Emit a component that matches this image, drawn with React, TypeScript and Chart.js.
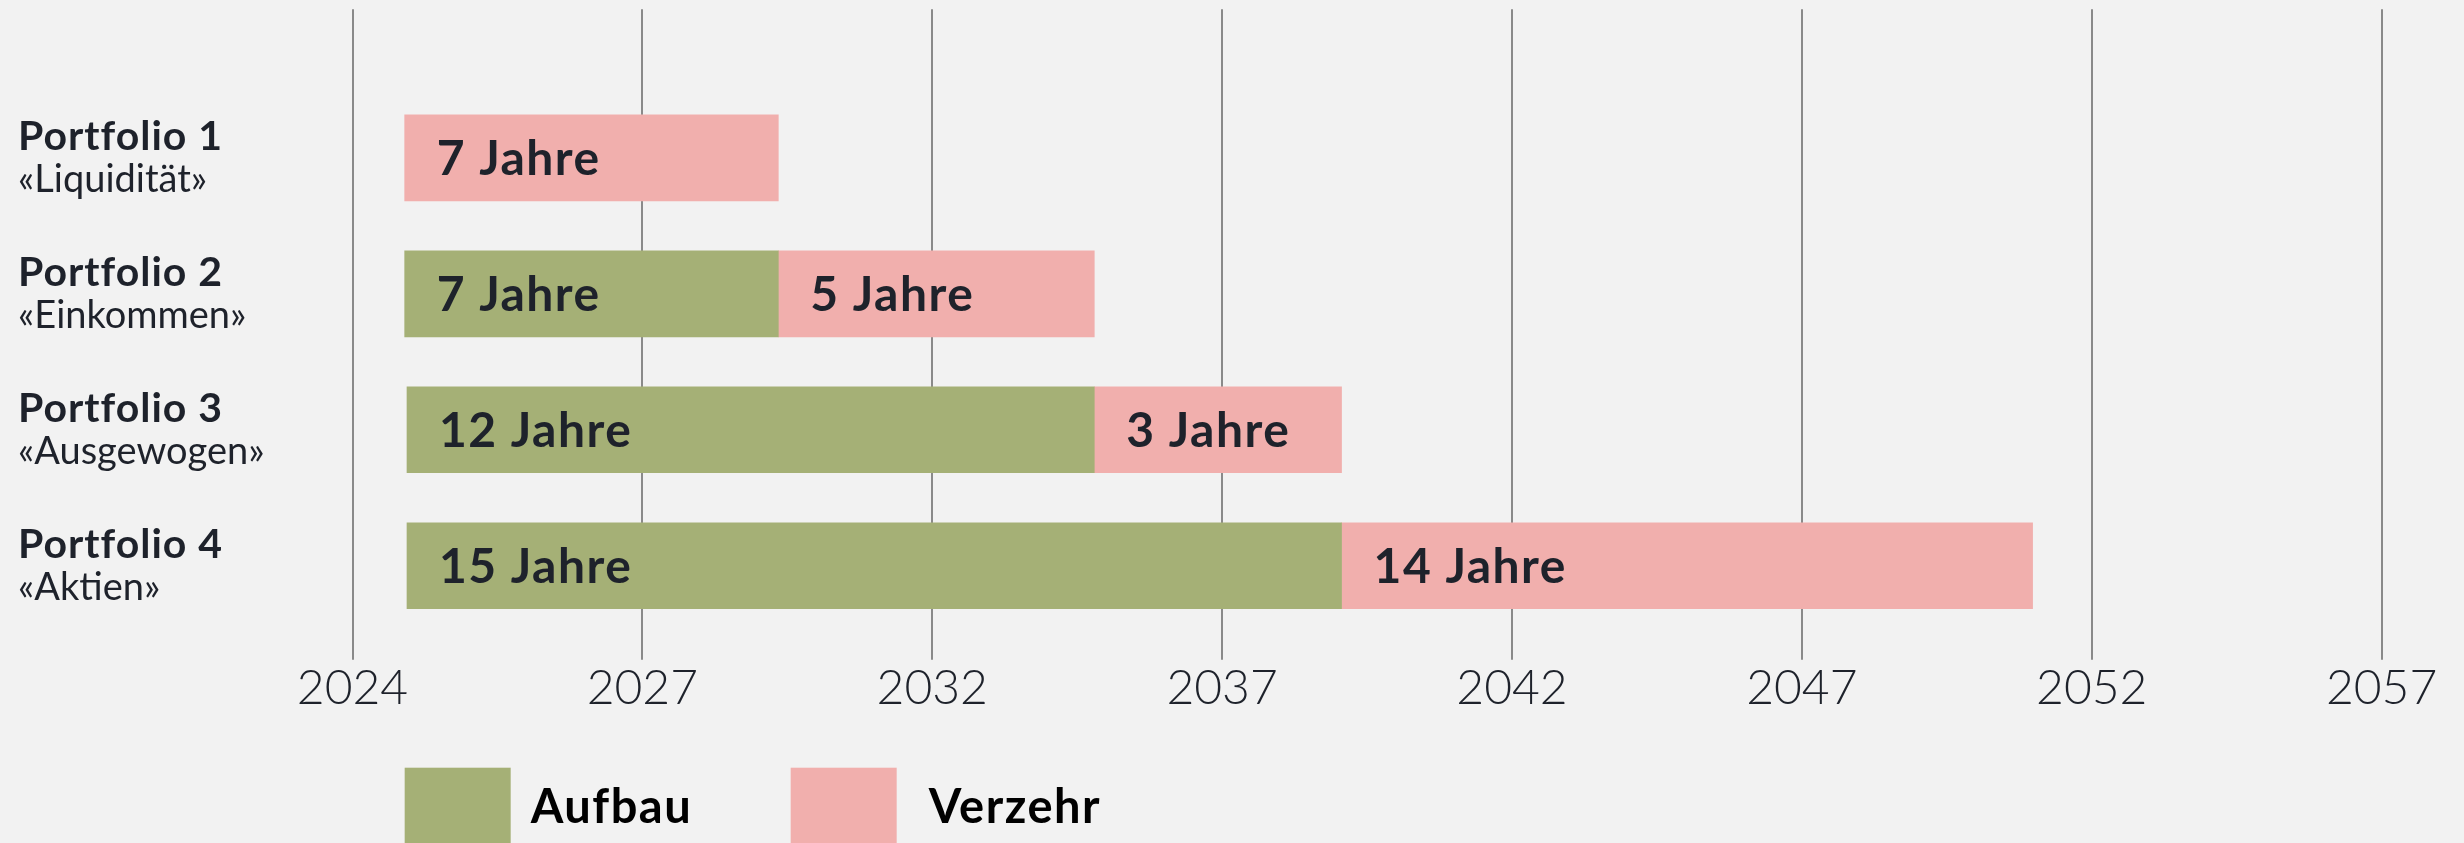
import React, { useEffect, useRef } from 'react';
import { Chart, registerables } from 'chart.js';

Chart.register(...registerables);

// ---- data ----
const categories = ['Portfolio 1', 'Portfolio 2', 'Portfolio 3', 'Portfolio 4'];
const subtitles = ['«Liquidität»', '«Einkommen»', '«Ausgewogen»', '«Aktien»'];
const xTickLabels = ['2024', '2027', '2032', '2037', '2042', '2047', '2052', '2057'];

// bar extents in axis units (one unit = one tick interval)
const aufbauStart: (number | null)[] = [null, 0.18, 0.188, 0.188];
const aufbauEnd: (number | null)[] = [null, 1.469, 2.559, 3.412];
const verzehrStart: number[] = [0.18, 1.469, 2.559, 3.412];
const verzehrEnd: number[] = [1.469, 2.559, 3.412, 5.796];

const aufbauLabels: (string | null)[] = [null, '7 Jahre', '12 Jahre', '15 Jahre'];
const verzehrLabels: string[] = ['7 Jahre', '5 Jahre', '3 Jahre', '14 Jahre'];

const seriesNames = ['Aufbau', 'Verzehr'];
const seriesColors = ['#a5b076', '#f1afad'];

const FONT = 'Lato, "Noto Sans", sans-serif';
const DARK = '#1e222b';

function toPoints(starts: (number | null)[], ends: (number | null)[], labels: (string | null)[]) {
  const out: any[] = [];
  starts.forEach((s, i) => {
    const e = ends[i];
    if (s == null || e == null) return;
    out.push({ x: [s, e], y: i, label: labels[i] });
  });
  return out;
}

function setSpacing(ctx: any, v: string) {
  if ('letterSpacing' in ctx) ctx.letterSpacing = v;
}

const categoryLabelPlugin = {
  id: 'categoryLabels',
  afterDraw(chart: any) {
    const ctx = chart.ctx;
    const ys = chart.scales.y;
    ctx.save();
    ctx.fillStyle = DARK;
    ctx.textAlign = 'left';
    ctx.textBaseline = 'alphabetic';
    categories.forEach((name, i) => {
      const cy = ys.getPixelForValue(i);
      ctx.font = `bold 41px ${FONT}`;
      setSpacing(ctx, '1px');
      ctx.fillText(name, 18, cy - 8);
      ctx.font = `normal 38px ${FONT}`;
      setSpacing(ctx, '0px');
      ctx.fillText(subtitles[i], 18, cy + 34);
    });
    ctx.restore();
  },
};

const barLabelPlugin = {
  id: 'barLabels',
  afterDatasetsDraw(chart: any) {
    const ctx = chart.ctx;
    ctx.save();
    ctx.fillStyle = DARK;
    ctx.textAlign = 'left';
    ctx.textBaseline = 'alphabetic';
    ctx.font = `bold 48px ${FONT}`;
    setSpacing(ctx, '1.5px');
    chart.data.datasets.forEach((ds: any, d: number) => {
      const meta = chart.getDatasetMeta(d);
      meta.data.forEach((el: any, j: number) => {
        const raw = ds.data[j];
        if (!raw || !raw.label) return;
        const { x, base, y } = el.getProps(['x', 'base', 'y'], true);
        const left = Math.min(x, base);
        ctx.fillText(raw.label, left + 32, y + 17);
      });
    });
    ctx.restore();
  },
};

const legendPlugin = {
  id: 'customLegend',
  afterDraw(chart: any) {
    const ctx = chart.ctx;
    const xs = chart.scales.x;
    const x0 = xs.getPixelForValue(verzehrStart[0]);
    const top = chart.chartArea.bottom + 134;
    const textGaps = [20, 32];
    ctx.save();
    ctx.textAlign = 'left';
    ctx.textBaseline = 'alphabetic';
    ctx.font = `bold 47px ${FONT}`;
    setSpacing(ctx, '1.5px');
    seriesNames.forEach((name, k) => {
      const bx = x0 + k * 386;
      ctx.fillStyle = seriesColors[k];
      ctx.fillRect(bx, top, 106, 120);
      ctx.fillStyle = '#000000';
      ctx.fillText(name, bx + 106 + textGaps[k], top + 55.6);
    });
    ctx.restore();
  },
};

export default function App() {
  const canvasRef = useRef<HTMLCanvasElement | null>(null);

  useEffect(() => {
    if (!canvasRef.current) return;
    const chart = new Chart(canvasRef.current, {
      type: 'bar',
      data: {
        datasets: [
          {
            label: seriesNames[0],
            data: toPoints(aufbauStart, aufbauEnd, aufbauLabels),
            backgroundColor: seriesColors[0],
            borderWidth: 0,
          },
          {
            label: seriesNames[1],
            data: toPoints(verzehrStart, verzehrEnd, verzehrLabels),
            backgroundColor: seriesColors[1],
            borderWidth: 0,
          },
        ] as any,
      },
      options: {
        animation: false,
        responsive: true,
        maintainAspectRatio: false,
        indexAxis: 'y',
        devicePixelRatio: 1,
        datasets: {
          bar: {
            grouped: false,
            barThickness: 86,
            categoryPercentage: 1,
            barPercentage: 0.632,
          },
        } as any,
        layout: {
          padding: { left: 352.5, right: 82.4, top: 9.3, bottom: 0 },
        },
        plugins: {
          legend: { display: false },
          tooltip: { enabled: false },
          title: { display: false },
        },
        scales: {
          x: {
            type: 'linear',
            position: 'bottom',
            min: 0,
            max: 7,
            offset: false,
            afterBuildTicks: (scale: any) => {
              scale.ticks = xTickLabels.map((_, i) => ({ value: i }));
            },
            afterFit: (scale: any) => {
              scale.height = 209.3;
            },
            ticks: {
              stepSize: 1,
              padding: 0,
              color: DARK,
              font: { family: FONT, size: 48, weight: '300' as any },
              callback: (value: any) => xTickLabels[Math.round(Number(value))] ?? '',
              maxRotation: 0,
              autoSkip: false,
            },
            grid: {
              display: true,
              offset: false,
              color: '#8a8a8a',
              lineWidth: 2,
              drawTicks: true,
              tickLength: 26,
              tickColor: '#8a8a8a',
              tickWidth: 2,
            },
            border: { display: false },
          },
          y: {
            type: 'linear',
            reverse: true,
            offset: false,
            min: -1.093,
            max: 3.5,
            display: false,
            grid: { offset: false },
            afterBuildTicks: (scale: any) => {
              scale.ticks = categories.map((_, i) => ({ value: i }));
            },
          },
        },
      },
      plugins: [categoryLabelPlugin, barLabelPlugin, legendPlugin],
    });
    return () => chart.destroy();
  }, []);

  return (
    <div
      style={{
        position: 'fixed',
        left: 0,
        top: 0,
        width: 2464,
        height: 843,
        background: '#f2f2f2',
        overflow: 'hidden',
      }}
    >
      <canvas ref={canvasRef} style={{ display: 'block', width: '100%', height: '100%' }} />
    </div>
  );
}
